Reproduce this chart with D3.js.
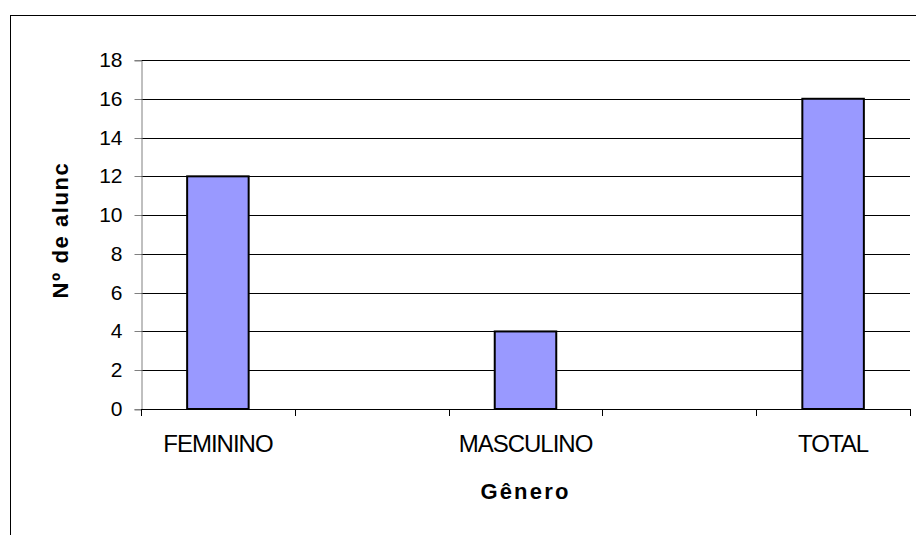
<!DOCTYPE html>
<html>
<head>
<meta charset="utf-8">
<script src="https://cdn.jsdelivr.net/npm/d3@7"></script>
<style>
  html, body { margin: 0; padding: 0; background: #fff; }
  svg { display: block; font-family: Arial, "Liberation Sans", sans-serif; }
</style>
</head>
<body>
<svg id="chart" width="916" height="535"></svg>
<script>
// Number of students by gender
const categories = ["FEMININO", "", "MASCULINO", "", "TOTAL"];
const values = [12, null, 4, null, 16];
const yTicks = [0, 2, 4, 6, 8, 10, 12, 14, 16, 18];
const xTitle = "Gênero";
const yTitle = "Nº de alunc";

const svg = d3.select("#chart");
const W = 916, H = 535;
const plot = { left: 141, right: 910, top: 60, bottom: 409 };

// Outer chart frame (runs past the right and bottom edges)
svg.append("rect")
  .attr("x", 10.5).attr("y", 15.5)
  .attr("width", W + 20).attr("height", H + 20)
  .attr("fill", "#fff").attr("stroke", "#000").attr("stroke-width", 1);

const x = d3.scaleBand()
  .domain(d3.range(categories.length))
  .range([plot.left, plot.right])
  .padding(0);

const y = d3.scaleLinear()
  .domain([0, 18])
  .range([plot.bottom, plot.top]);

// Horizontal gridlines
svg.append("g")
  .selectAll("line")
  .data(yTicks.filter(t => t > 0))
  .join("line")
  .attr("x1", plot.left).attr("x2", plot.right)
  .attr("y1", d => Math.round(y(d)) + 0.5)
  .attr("y2", d => Math.round(y(d)) + 0.5)
  .attr("stroke", "#000").attr("stroke-width", 1);

// Y axis
const yAxis = d3.axisLeft(y)
  .tickValues(yTicks)
  .tickSize(7)
  .tickPadding(12)
  .tickFormat(d3.format("d"));

const gy = svg.append("g")
  .attr("transform", `translate(${plot.left + 0.5},0.5)`)
  .call(yAxis);
gy.attr("font-size", 21).attr("font-family", "Arial, 'Liberation Sans', sans-serif");
gy.select(".domain").attr("stroke", "#808080");
gy.selectAll(".tick line").attr("stroke", "#808080");
gy.selectAll(".tick text").attr("fill", "#000");
gy.selectAll(".tick").attr("transform", d => `translate(0,${Math.round(y(d))})`);

// Bars
const barW = x.bandwidth() * 0.4;
svg.append("g")
  .selectAll("rect")
  .data(values.map((v, i) => ({ v, i })).filter(d => d.v != null))
  .join("rect")
  .attr("x", d => x(d.i) + (x.bandwidth() - barW) / 2)
  .attr("y", d => y(d.v))
  .attr("width", barW)
  .attr("height", d => y(0) - y(d.v))
  .attr("fill", "#9999FF")
  .attr("stroke", "#000")
  .attr("stroke-width", 2);

// X axis line and boundary ticks
const bounds = d3.range(categories.length).map(i => x(i)).concat([plot.right]);
const gx = svg.append("g");
gx.append("line")
  .attr("x1", plot.left).attr("x2", plot.right)
  .attr("y1", plot.bottom + 0.5).attr("y2", plot.bottom + 0.5)
  .attr("stroke", "#000").attr("stroke-width", 1);
gx.selectAll("line.tick")
  .data(bounds)
  .join("line")
  .attr("class", "tick")
  .attr("x1", d => Math.round(d) + 0.5).attr("x2", d => Math.round(d) + 0.5)
  .attr("y1", plot.bottom).attr("y2", plot.bottom + 7)
  .attr("stroke", "#000").attr("stroke-width", 1);

// Category labels
gx.selectAll("text")
  .data(categories.map((c, i) => ({ c, i })).filter(d => d.c))
  .join("text")
  .attr("x", d => x(d.i) + x.bandwidth() / 2)
  .attr("y", 452)
  .attr("text-anchor", "middle")
  .attr("font-size", 24)
  .attr("letter-spacing", -1)
  .attr("fill", "#000")
  .text(d => d.c);

// Axis titles
svg.append("text")
  .attr("x", (plot.left + plot.right) / 2)
  .attr("y", 499)
  .attr("text-anchor", "middle")
  .attr("font-size", 22)
  .attr("font-weight", "bold")
  .attr("letter-spacing", 2.2)
  .attr("fill", "#000")
  .text(xTitle);

svg.append("text")
  .attr("transform", "translate(68,230) rotate(-90)")
  .attr("text-anchor", "middle")
  .attr("font-size", 22)
  .attr("font-weight", "bold")
  .attr("letter-spacing", 1.6)
  .attr("fill", "#000")
  .text(yTitle);
</script>
</body>
</html>
